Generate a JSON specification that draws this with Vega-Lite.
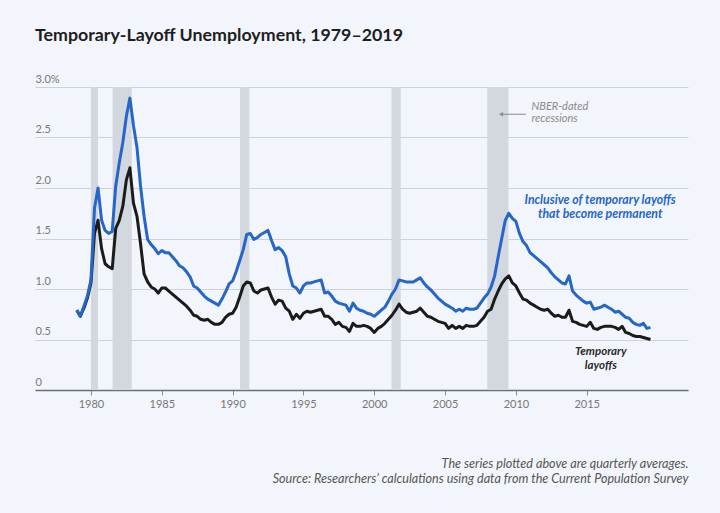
{
  "$schema": "https://vega.github.io/schema/vega-lite/v6.json",
  "width": 653,
  "height": 303,
  "autosize": {"type": "none"},
  "padding": {"left": 35, "top": 87, "right": 32, "bottom": 123},
  "background": "#f2f5fb",
  "config": {"view": {"stroke": null}, "font": "Lato"},
  "title": {
    "text": "Temporary-Layoff Unemployment, 1979–2019",
    "anchor": "start",
    "frame": "group",
    "font": "Lato",
    "fontSize": 17.8,
    "fontWeight": "bold",
    "color": "#1e1e1e",
    "offset": 28
  },
  "encoding": {
    "x": {
      "field": "t",
      "type": "quantitative",
      "scale": {"domain": [1976.05, 2022.15], "nice": false, "zero": false},
      "axis": {
        "values": [1980, 1985, 1990, 1995, 2000, 2005, 2010, 2015],
        "format": "d",
        "grid": false,
        "domain": true,
        "domainColor": "#6b6f76",
        "domainWidth": 1.5,
        "ticks": true,
        "tickColor": "#8a8e94",
        "tickSize": 5,
        "labelColor": "#777",
        "labelFont": "Lato",
        "labelFontSize": 11,
        "labelPadding": 3,
        "title": ["The series plotted above are quarterly averages.", "Source: Researchers’ calculations using data from the Current Population Survey"],
        "titleAnchor": "end",
        "titleAlign": "right",
        "titleFont": "Lato",
        "titleFontStyle": "italic",
        "titleFontWeight": "normal",
        "titleColor": "#555",
        "titleFontSize": 12.6,
        "titleLineHeight": 15,
        "titlePadding": 48
      }
    }
  },
  "layer": [
    {
      "data": {"values": [
        {"t": 1980.0, "t2": 1980.5},
        {"t": 1981.53, "t2": 1982.88},
        {"t": 1990.52, "t2": 1991.18},
        {"t": 2001.22, "t2": 2001.87},
        {"t": 2007.98, "t2": 2009.47}
      ]},
      "mark": {"type": "rect", "color": "#d3d7de"},
      "encoding": {
        "x2": {"field": "t2"}
      }
    },
    {
      "data": {"values": [
        {"t":1979.00,"inclusive":0.79,"temporary":0.79},
        {"t":1979.25,"inclusive":0.73,"temporary":0.73},
        {"t":1979.50,"inclusive":0.83,"temporary":0.81},
        {"t":1979.75,"inclusive":0.93,"temporary":0.91},
        {"t":1980.00,"inclusive":1.09,"temporary":1.06},
        {"t":1980.25,"inclusive":1.80,"temporary":1.55},
        {"t":1980.50,"inclusive":2.00,"temporary":1.68},
        {"t":1980.75,"inclusive":1.68,"temporary":1.40},
        {"t":1981.00,"inclusive":1.58,"temporary":1.25},
        {"t":1981.25,"inclusive":1.55,"temporary":1.22},
        {"t":1981.50,"inclusive":1.57,"temporary":1.20},
        {"t":1981.75,"inclusive":2.02,"temporary":1.60},
        {"t":1982.00,"inclusive":2.25,"temporary":1.68},
        {"t":1982.25,"inclusive":2.45,"temporary":1.82},
        {"t":1982.50,"inclusive":2.71,"temporary":2.08},
        {"t":1982.75,"inclusive":2.89,"temporary":2.20},
        {"t":1983.00,"inclusive":2.62,"temporary":1.85},
        {"t":1983.25,"inclusive":2.40,"temporary":1.72},
        {"t":1983.50,"inclusive":2.02,"temporary":1.45},
        {"t":1983.75,"inclusive":1.72,"temporary":1.15},
        {"t":1984.00,"inclusive":1.49,"temporary":1.07},
        {"t":1984.25,"inclusive":1.44,"temporary":1.02},
        {"t":1984.50,"inclusive":1.40,"temporary":1.00},
        {"t":1984.75,"inclusive":1.35,"temporary":0.96},
        {"t":1985.00,"inclusive":1.38,"temporary":1.01},
        {"t":1985.25,"inclusive":1.36,"temporary":1.01},
        {"t":1985.50,"inclusive":1.36,"temporary":0.98},
        {"t":1985.75,"inclusive":1.32,"temporary":0.95},
        {"t":1986.00,"inclusive":1.28,"temporary":0.92},
        {"t":1986.25,"inclusive":1.23,"temporary":0.89},
        {"t":1986.50,"inclusive":1.21,"temporary":0.86},
        {"t":1986.75,"inclusive":1.17,"temporary":0.83},
        {"t":1987.00,"inclusive":1.12,"temporary":0.79},
        {"t":1987.25,"inclusive":1.03,"temporary":0.74},
        {"t":1987.50,"inclusive":1.01,"temporary":0.73},
        {"t":1987.75,"inclusive":0.97,"temporary":0.70},
        {"t":1988.00,"inclusive":0.93,"temporary":0.69},
        {"t":1988.25,"inclusive":0.90,"temporary":0.70},
        {"t":1988.50,"inclusive":0.88,"temporary":0.67},
        {"t":1988.75,"inclusive":0.86,"temporary":0.65},
        {"t":1989.00,"inclusive":0.84,"temporary":0.65},
        {"t":1989.25,"inclusive":0.90,"temporary":0.67},
        {"t":1989.50,"inclusive":0.97,"temporary":0.72},
        {"t":1989.75,"inclusive":1.05,"temporary":0.75},
        {"t":1990.00,"inclusive":1.08,"temporary":0.76},
        {"t":1990.25,"inclusive":1.17,"temporary":0.82},
        {"t":1990.50,"inclusive":1.28,"temporary":0.92},
        {"t":1990.75,"inclusive":1.39,"temporary":1.03},
        {"t":1991.00,"inclusive":1.54,"temporary":1.07},
        {"t":1991.25,"inclusive":1.55,"temporary":1.06},
        {"t":1991.50,"inclusive":1.49,"temporary":0.98},
        {"t":1991.75,"inclusive":1.51,"temporary":0.96},
        {"t":1992.00,"inclusive":1.54,"temporary":0.99},
        {"t":1992.25,"inclusive":1.56,"temporary":1.00},
        {"t":1992.50,"inclusive":1.58,"temporary":1.01},
        {"t":1992.75,"inclusive":1.48,"temporary":0.92},
        {"t":1993.00,"inclusive":1.39,"temporary":0.85},
        {"t":1993.25,"inclusive":1.41,"temporary":0.89},
        {"t":1993.50,"inclusive":1.38,"temporary":0.88},
        {"t":1993.75,"inclusive":1.32,"temporary":0.81},
        {"t":1994.00,"inclusive":1.15,"temporary":0.78},
        {"t":1994.25,"inclusive":1.03,"temporary":0.70},
        {"t":1994.50,"inclusive":1.01,"temporary":0.75},
        {"t":1994.75,"inclusive":0.96,"temporary":0.71},
        {"t":1995.00,"inclusive":1.03,"temporary":0.76},
        {"t":1995.25,"inclusive":1.06,"temporary":0.78},
        {"t":1995.50,"inclusive":1.06,"temporary":0.77},
        {"t":1995.75,"inclusive":1.07,"temporary":0.78},
        {"t":1996.00,"inclusive":1.08,"temporary":0.79},
        {"t":1996.25,"inclusive":1.09,"temporary":0.80},
        {"t":1996.50,"inclusive":0.96,"temporary":0.73},
        {"t":1996.75,"inclusive":0.97,"temporary":0.73},
        {"t":1997.00,"inclusive":0.93,"temporary":0.70},
        {"t":1997.25,"inclusive":0.88,"temporary":0.65},
        {"t":1997.50,"inclusive":0.86,"temporary":0.67},
        {"t":1997.75,"inclusive":0.85,"temporary":0.63},
        {"t":1998.00,"inclusive":0.84,"temporary":0.62},
        {"t":1998.25,"inclusive":0.78,"temporary":0.58},
        {"t":1998.50,"inclusive":0.86,"temporary":0.66},
        {"t":1998.75,"inclusive":0.81,"temporary":0.63},
        {"t":1999.00,"inclusive":0.79,"temporary":0.63},
        {"t":1999.25,"inclusive":0.78,"temporary":0.64},
        {"t":1999.50,"inclusive":0.76,"temporary":0.63},
        {"t":1999.75,"inclusive":0.75,"temporary":0.61},
        {"t":2000.00,"inclusive":0.73,"temporary":0.57},
        {"t":2000.25,"inclusive":0.76,"temporary":0.61},
        {"t":2000.50,"inclusive":0.79,"temporary":0.63},
        {"t":2000.75,"inclusive":0.82,"temporary":0.66},
        {"t":2001.00,"inclusive":0.88,"temporary":0.70},
        {"t":2001.25,"inclusive":0.95,"temporary":0.74},
        {"t":2001.50,"inclusive":1.00,"temporary":0.79},
        {"t":2001.75,"inclusive":1.09,"temporary":0.85},
        {"t":2002.00,"inclusive":1.08,"temporary":0.80},
        {"t":2002.25,"inclusive":1.07,"temporary":0.77},
        {"t":2002.50,"inclusive":1.07,"temporary":0.76},
        {"t":2002.75,"inclusive":1.07,"temporary":0.77},
        {"t":2003.00,"inclusive":1.09,"temporary":0.78},
        {"t":2003.25,"inclusive":1.11,"temporary":0.81},
        {"t":2003.50,"inclusive":1.06,"temporary":0.77},
        {"t":2003.75,"inclusive":1.02,"temporary":0.73},
        {"t":2004.00,"inclusive":0.99,"temporary":0.72},
        {"t":2004.25,"inclusive":0.95,"temporary":0.70},
        {"t":2004.50,"inclusive":0.91,"temporary":0.68},
        {"t":2004.75,"inclusive":0.88,"temporary":0.67},
        {"t":2005.00,"inclusive":0.85,"temporary":0.66},
        {"t":2005.25,"inclusive":0.83,"temporary":0.61},
        {"t":2005.50,"inclusive":0.81,"temporary":0.64},
        {"t":2005.75,"inclusive":0.78,"temporary":0.61},
        {"t":2006.00,"inclusive":0.80,"temporary":0.63},
        {"t":2006.25,"inclusive":0.78,"temporary":0.61},
        {"t":2006.50,"inclusive":0.81,"temporary":0.64},
        {"t":2006.75,"inclusive":0.80,"temporary":0.63},
        {"t":2007.00,"inclusive":0.80,"temporary":0.63},
        {"t":2007.25,"inclusive":0.81,"temporary":0.64},
        {"t":2007.50,"inclusive":0.86,"temporary":0.68},
        {"t":2007.75,"inclusive":0.91,"temporary":0.72},
        {"t":2008.00,"inclusive":0.95,"temporary":0.78},
        {"t":2008.25,"inclusive":1.02,"temporary":0.80},
        {"t":2008.50,"inclusive":1.13,"temporary":0.90},
        {"t":2008.75,"inclusive":1.32,"temporary":0.98},
        {"t":2009.00,"inclusive":1.50,"temporary":1.05},
        {"t":2009.25,"inclusive":1.68,"temporary":1.10},
        {"t":2009.50,"inclusive":1.75,"temporary":1.13},
        {"t":2009.75,"inclusive":1.70,"temporary":1.06},
        {"t":2010.00,"inclusive":1.67,"temporary":1.03},
        {"t":2010.25,"inclusive":1.55,"temporary":0.96},
        {"t":2010.50,"inclusive":1.47,"temporary":0.90},
        {"t":2010.75,"inclusive":1.43,"temporary":0.89},
        {"t":2011.00,"inclusive":1.36,"temporary":0.86},
        {"t":2011.25,"inclusive":1.33,"temporary":0.84},
        {"t":2011.50,"inclusive":1.30,"temporary":0.82},
        {"t":2011.75,"inclusive":1.27,"temporary":0.80},
        {"t":2012.00,"inclusive":1.24,"temporary":0.79},
        {"t":2012.25,"inclusive":1.21,"temporary":0.80},
        {"t":2012.50,"inclusive":1.16,"temporary":0.76},
        {"t":2012.75,"inclusive":1.12,"temporary":0.73},
        {"t":2013.00,"inclusive":1.09,"temporary":0.74},
        {"t":2013.25,"inclusive":1.06,"temporary":0.72},
        {"t":2013.50,"inclusive":1.05,"temporary":0.72},
        {"t":2013.75,"inclusive":1.13,"temporary":0.79},
        {"t":2014.00,"inclusive":0.98,"temporary":0.68},
        {"t":2014.25,"inclusive":0.94,"temporary":0.67},
        {"t":2014.50,"inclusive":0.91,"temporary":0.65},
        {"t":2014.75,"inclusive":0.88,"temporary":0.64},
        {"t":2015.00,"inclusive":0.86,"temporary":0.63},
        {"t":2015.25,"inclusive":0.87,"temporary":0.67},
        {"t":2015.50,"inclusive":0.80,"temporary":0.61},
        {"t":2015.75,"inclusive":0.81,"temporary":0.60},
        {"t":2016.00,"inclusive":0.82,"temporary":0.62},
        {"t":2016.25,"inclusive":0.84,"temporary":0.63},
        {"t":2016.50,"inclusive":0.82,"temporary":0.63},
        {"t":2016.75,"inclusive":0.80,"temporary":0.63},
        {"t":2017.00,"inclusive":0.77,"temporary":0.62},
        {"t":2017.25,"inclusive":0.78,"temporary":0.60},
        {"t":2017.50,"inclusive":0.75,"temporary":0.63},
        {"t":2017.75,"inclusive":0.72,"temporary":0.57},
        {"t":2018.00,"inclusive":0.71,"temporary":0.56},
        {"t":2018.25,"inclusive":0.67,"temporary":0.54},
        {"t":2018.50,"inclusive":0.65,"temporary":0.53},
        {"t":2018.75,"inclusive":0.64,"temporary":0.53},
        {"t":2019.00,"inclusive":0.66,"temporary":0.52},
        {"t":2019.25,"inclusive":0.61,"temporary":0.51},
        {"t":2019.50,"inclusive":0.62,"temporary":0.50}
      ]},
      "transform": [{"fold": ["temporary", "inclusive"], "as": ["series", "v"]}],
      "mark": {"type": "line", "strokeWidth": 3, "strokeJoin": "round"},
      "encoding": {
        "y": {
          "field": "v",
          "type": "quantitative",
          "scale": {"domain": [0, 3], "nice": false},
          "axis": {
            "title": null,
            "values": [0, 0.5, 1, 1.5, 2, 2.5, 3],
            "domain": false,
            "ticks": false,
            "tickSize": 0,
            "grid": true,
            "gridColor": "#cdd1d8",
            "labelAlign": "left",
            "labelPadding": 0,
            "labelBaseline": "alphabetic",
            "labelOffset": -5,
            "labelColor": "#777",
            "labelFont": "Lato",
            "labelFontSize": 11,
            "labelExpr": "datum.value == 3 ? '3.0%' : datum.value == 0 ? '0' : format(datum.value, '.1f')"
          }
        },
        "color": {
          "field": "series",
          "type": "nominal",
          "scale": {"domain": ["inclusive", "temporary"], "range": ["#2566c8", "#1b1b1b"]},
          "legend": null
        }
      }
    },
    {
      "data": {"values": [{"t": 2009.05, "t2": 2010.7, "v": 2.73}]},
      "mark": {"type": "rule", "color": "#8a8a8a", "strokeWidth": 1},
      "encoding": {"x2": {"field": "t2"}, "y": {"field": "v", "type": "quantitative"}}
    },
    {
      "data": {"values": [{"t": 2008.95, "v": 2.73}]},
      "mark": {"type": "point", "shape": "triangle-left", "filled": true, "size": 22, "color": "#8a8a8a", "opacity": 1},
      "encoding": {"y": {"field": "v", "type": "quantitative"}}
    },
    {
      "data": {"values": [
        {"t": 2011.1, "v": 2.80, "label": "NBER-dated"},
        {"t": 2011.1, "v": 2.68, "label": "recessions"}
      ]},
      "mark": {"type": "text", "align": "left", "baseline": "middle", "font": "Lato", "fontSize": 11, "fontStyle": "italic", "color": "#8a8a8a"},
      "encoding": {"y": {"field": "v", "type": "quantitative"}, "text": {"field": "label"}}
    },
    {
      "data": {"values": [
        {"t": 2015.95, "v": 1.878, "label": "Inclusive of temporary layoffs"},
        {"t": 2015.95, "v": 1.745, "label": "that become permanent"}
      ]},
      "mark": {"type": "text", "align": "center", "baseline": "middle", "font": "Lato", "fontSize": 12.3, "fontStyle": "italic", "fontWeight": "bold", "color": "#2566c8"},
      "encoding": {"y": {"field": "v", "type": "quantitative"}, "text": {"field": "label"}}
    },
    {
      "data": {"values": [
        {"t": 2016.0, "v": 0.372, "label": "Temporary"},
        {"t": 2016.0, "v": 0.240, "label": "layoffs"}
      ]},
      "mark": {"type": "text", "align": "center", "baseline": "middle", "font": "Lato", "fontSize": 11.5, "fontStyle": "italic", "fontWeight": "bold", "color": "#2a2a2a"},
      "encoding": {"y": {"field": "v", "type": "quantitative"}, "text": {"field": "label"}}
    }
  ]
}
